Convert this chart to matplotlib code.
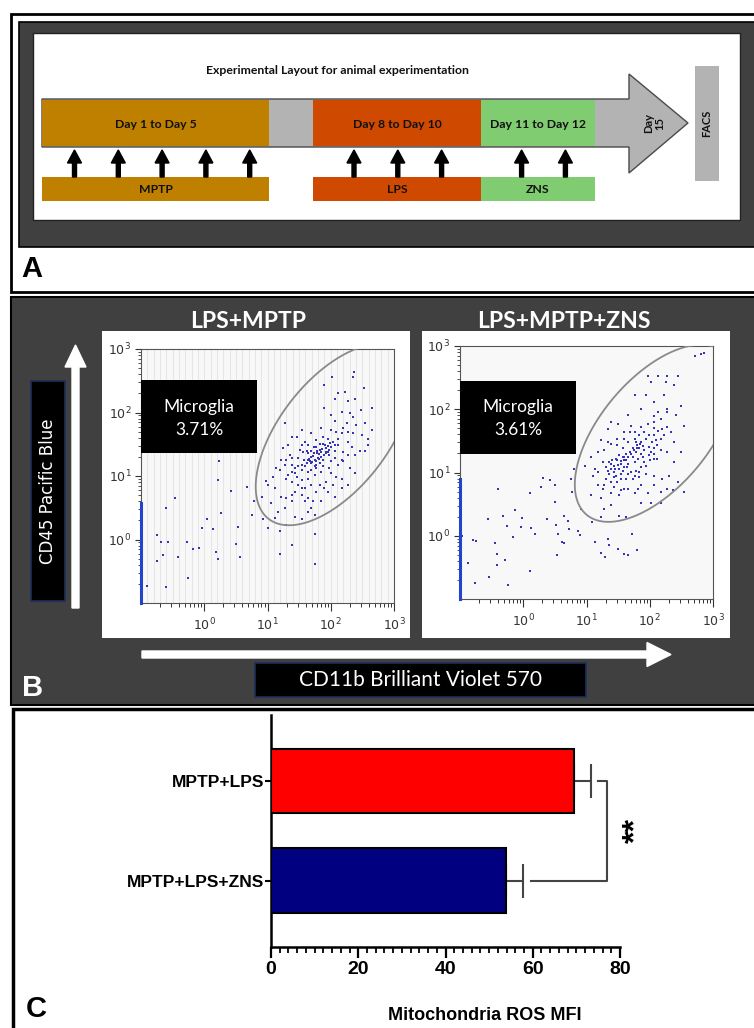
import numpy as np
import matplotlib
matplotlib.use('Agg')
from matplotlib import pyplot as plt
from matplotlib.patches import Rectangle, Polygon, FancyArrow
from matplotlib.ticker import FixedLocator, LogLocator, NullFormatter, FuncFormatter, MultipleLocator

W, H = 754, 1028

## Panel A - timeline
phases = ['Day 1 to Day 5', 'Day 8 to Day 10', 'Day 11 to Day 12']
treatments = ['MPTP', 'LPS', 'ZNS']
n_doses = [5, 3, 2]
phase_cols = ['#bf8000', '#cf4900', '#80cc70']

## Panel B - flow events, log10(CD11b), log10(CD45)
lps_mptp_events = [
    (-0.91, -0.73), (-0.61, -0.75), (-0.26, -0.61), (-0.75, -0.34), (-0.65, -0.25),
    (-0.41, -0.28), (-0.68, -0.04), (-0.58, -0.04), (-0.28, -0.04), (-0.18, -0.15),
    (-0.08, -0.13), (0.19, -0.20), (0.22, -0.31), (0.50, -0.07), (0.56, -0.28),
    (-0.75, 0.07), (-0.61, 0.50), (-0.46, 0.65), (-0.04, 0.18), (0.05, 0.32),
    (0.14, 0.16), (0.26, 0.41), (0.23, 1.24), (0.21, 0.94), (0.42, 0.76),
    (0.53, 0.20), (0.67, 0.82), (0.75, 0.39), (0.79, 0.60), (1.00, 0.18),
    (1.12, 0.34), (1.20, 0.13), (1.39, -0.08), (1.20, -0.23), (1.75, 0.08),
    (1.75, -0.39), (1.30, 0.23), (0.93, 0.33),
    (2.36, 2.63), (2.35, 2.56), (2.02, 2.56), (1.89, 2.44), (2.52, 2.38),
    (2.12, 2.30), (2.22, 2.32), (2.38, 2.22), (2.06, 2.22), (2.27, 2.18),
    (2.65, 2.07), (2.48, 2.04), (1.90, 2.07), (2.17, 2.01), (2.01, 1.96),
    (2.30, 1.99), (2.35, 1.93), (2.06, 1.87), (2.25, 1.83), (2.54, 1.83),
    (2.40, 1.80), (2.20, 1.75), (1.28, 1.83), (1.85, 1.76), (2.09, 1.70),
    (2.35, 1.67), (2.49, 1.65), (2.59, 1.58), (2.27, 1.54), (2.12, 1.49),
    (1.88, 1.62), (1.69, 1.67), (1.54, 1.72), (1.46, 1.62), (1.38, 1.62),
    (1.59, 1.54), (2.33, 1.46), (2.46, 1.39), (2.54, 1.39), (2.01, 1.46),
    (1.77, 1.46), (1.64, 1.49), (2.06, 1.39), (1.96, 1.38), (1.90, 1.33),
    (1.85, 1.30), (1.80, 1.28), (1.75, 1.25), (1.69, 1.30), (1.67, 1.23),
    (1.83, 1.20), (1.88, 1.25), (1.93, 1.44), (1.98, 1.33), (2.06, 1.28),
    (2.17, 1.25), (2.12, 1.17), (1.75, 1.15), (1.69, 1.10), (1.64, 1.07),
    (1.59, 1.15), (1.54, 1.17), (1.48, 1.15), (1.43, 1.12), (1.38, 1.07),
    (1.33, 1.02), (1.48, 1.28), (1.35, 1.33), (1.22, 1.25), (1.20, 1.09),
    (1.27, 1.17), (1.46, 0.99), (1.54, 0.94), (1.64, 0.96), (1.75, 1.02),
    (1.85, 1.07), (2.01, 1.04), (2.17, 0.96), (1.93, 0.91), (1.83, 0.86),
    (1.59, 0.81), (1.48, 0.86), (1.38, 0.91), (1.43, 0.75), (1.54, 0.70),
    (1.64, 0.65), (1.77, 0.75), (1.96, 0.75), (2.06, 0.67), (1.85, 0.60),
    (1.69, 0.49), (1.59, 0.60), (1.38, 0.60), (1.27, 0.49), (1.22, 0.67),
    (1.12, 0.81), (1.01, 0.86), (1.06, 0.57), (1.17, 0.44), (1.43, 0.36),
    (1.54, 0.33), (1.75, 0.39), (2.19, 1.23), (2.30, 1.12), (2.38, 1.04),
    (2.59, 1.49), (2.65, 1.72), (2.09, 0.99), (1.97, 1.12), (1.79, 1.36),
    (1.74, 1.37), (1.83, 1.41), (1.91, 1.49), (2.03, 1.54), (2.12, 1.59),
    (1.64, 1.36), (1.56, 1.38), (1.51, 1.41), (0.91, 0.67), (0.97, 0.92),
    (1.09, 0.99), (1.14, 1.12), (1.25, 1.44), (1.33, 1.49),
    (1.72, 1.32), (1.78, 1.40), (1.82, 1.35), (1.86, 1.42), (1.70, 1.22),
    (1.76, 1.18), (1.92, 1.38), (1.95, 1.47), (1.66, 1.27), (1.73, 1.46),
    (1.81, 1.27), (1.88, 1.50), (1.62, 1.20), (1.58, 1.25), (1.99, 1.52),
    (1.62, 1.39), (1.69, 1.39), (1.77, 1.23), (1.85, 1.38), (1.93, 1.36),
    (1.98, 1.41), (1.54, 1.09), (1.43, 1.04), (1.38, 1.17), (1.30, 0.96),
    (1.69, 1.20), (1.64, 1.25), (1.77, 1.12), (1.88, 1.15), (2.01, 1.23),
    (2.06, 1.49), (2.19, 1.38), (2.27, 1.33), (2.38, 1.33), (2.27, 1.70),
    (2.17, 1.67), (2.01, 1.72), (1.96, 1.59), (1.77, 1.57), (1.83, 1.51),
    (1.54, 1.49), (1.38, 1.28), (1.30, 1.25), (1.54, 0.81), (1.69, 0.86),
    (1.90, 0.81), (2.04, 0.86), (2.27, 0.86), (2.17, 0.81), (1.38, 0.70),
    (1.30, 0.65), (1.72, 0.60), (1.64, 0.44),
]
lps_mptp_zns_events = [
    (-0.97, 0.00), (-0.79, -0.06), (-0.75, -0.09), (-0.87, -0.43), (-0.77, -0.74),
    (-0.54, -0.66), (-0.41, -0.29), (-0.45, -0.11), (-0.41, -0.46), (-0.29, -0.39),
    (-0.24, -0.78), (0.10, -0.55), (-0.32, 0.32), (-0.56, 0.26), (-0.26, 0.15),
    (-0.16, -0.02), (-0.13, 0.40), (-0.02, 0.28), (-0.03, 0.14), (0.13, 0.12),
    (0.19, 0.02), (0.31, 0.91), (0.28, 0.77), (0.38, 0.26), (0.43, 0.88),
    (0.50, 0.80), (0.50, 0.53), (0.52, 0.17), (0.54, -0.31), (0.55, 0.02),
    (0.61, -0.10), (0.65, -0.11), (0.65, 0.32), (0.72, 0.11), (0.76, 0.90),
    (0.77, 0.69), (0.87, 0.08), (0.92, 0.43), (1.08, 0.22), (1.13, -0.10),
    (1.23, -0.27), (1.29, -0.34), (1.34, -0.05), (1.35, -0.15), (1.50, -0.21),
    (1.59, -0.29), (1.65, -0.31), (1.72, 0.02), (1.80, -0.23), (-0.40, 0.74),
    (0.10, 0.67), (0.71, 0.24), (0.89, 0.01),
    (2.71, 2.84), (2.81, 2.88), (2.86, 2.89),
    (1.97, 2.53), (2.13, 2.53), (2.28, 2.52), (2.44, 2.52), (2.02, 2.43),
    (2.25, 2.43), (2.39, 2.39), (1.76, 2.23), (1.94, 2.22), (2.22, 2.22),
    (2.50, 2.05), (2.41, 1.91), (2.28, 1.95), (2.13, 1.95), (2.06, 1.90),
    (1.65, 1.91), (1.50, 1.77), (1.39, 1.80), (1.34, 1.68), (1.70, 1.74),
    (1.86, 1.72), (1.97, 1.77), (2.07, 1.70), (2.13, 1.65), (2.20, 1.68),
    (2.28, 1.72), (2.33, 1.64), (2.07, 1.60), (1.99, 1.59), (1.94, 1.53),
    (1.86, 1.48), (1.80, 1.43), (1.73, 1.39), (1.68, 1.33), (1.62, 1.30),
    (1.57, 1.24), (1.52, 1.27), (1.47, 1.22), (1.41, 1.19), (1.36, 1.17),
    (1.31, 1.09), (1.39, 1.06), (1.44, 1.11), (1.55, 1.14), (1.60, 1.09),
    (1.65, 1.14), (1.76, 1.17), (1.81, 1.22), (1.86, 1.30), (1.91, 1.35),
    (1.99, 1.40), (2.04, 1.48), (2.10, 1.51), (1.89, 1.24), (1.70, 1.01),
    (1.78, 1.03), (1.55, 0.98), (1.47, 0.95), (1.36, 0.98), (1.31, 0.90),
    (1.39, 0.85), (1.49, 0.85), (1.62, 0.90), (1.73, 0.90), (1.83, 0.93),
    (1.94, 0.98), (2.07, 0.95), (2.20, 0.90), (2.31, 0.95), (2.36, 0.72),
    (2.18, 0.69), (1.97, 0.67), (1.76, 0.67), (1.81, 0.74), (1.65, 0.74),
    (1.55, 0.72), (1.44, 0.77), (1.26, 0.74), (1.18, 0.80), (1.07, 0.64),
    (1.23, 0.59), (1.28, 0.43), (1.39, 0.48), (1.52, 0.32), (1.62, 0.30),
    (1.23, 0.30), (1.07, 1.24), (1.13, 1.06), (1.65, 1.48), (1.76, 1.53),
    (1.60, 1.53), (1.49, 1.43), (1.39, 1.45), (1.28, 1.35), (1.23, 1.51),
    (1.18, 1.32), (1.10, 0.95), (0.97, 1.11), (0.81, 1.06), (2.54, 0.69),
    (2.18, 0.51), (2.02, 0.51), (1.86, 0.51), (2.12, 1.22), (2.18, 1.35),
    (2.28, 1.32), (2.39, 1.48), (2.54, 1.74), (2.18, 1.85), (2.07, 1.30),
    (2.01, 1.19), (1.78, 1.32), (1.57, 1.38), (1.68, 1.64), (1.83, 1.59),
    (2.02, 1.32), (2.07, 1.38), (1.94, 1.11), (1.86, 1.09), (1.73, 1.24),
    (1.62, 1.19), (1.52, 1.06), (1.44, 1.01),
    (1.60, 1.20), (1.66, 1.25), (1.70, 1.30), (1.75, 1.35), (1.55, 1.18),
    (1.80, 1.38), (1.84, 1.45), (1.50, 1.12), (1.45, 1.05), (1.58, 1.02),
    (1.90, 1.42), (1.64, 1.08),
    (1.78, 1.48), (1.83, 1.38), (1.70, 1.30), (1.60, 1.24), (1.49, 1.19),
    (1.39, 1.14), (1.34, 1.03), (1.44, 0.93), (1.55, 0.90), (1.65, 0.98),
    (1.76, 0.95), (1.83, 1.01), (1.91, 1.17), (1.99, 1.27), (2.07, 1.22),
    (2.12, 1.43), (2.18, 1.53), (2.23, 1.59), (2.07, 1.80), (1.91, 1.64),
    (1.76, 1.64), (1.60, 1.64), (1.49, 1.53), (1.34, 1.48), (1.26, 1.17),
    (1.18, 1.01), (1.28, 0.80), (1.39, 0.67), (1.52, 0.64), (1.60, 0.74),
    (1.86, 0.80), (2.07, 0.80), (2.28, 0.74), (2.44, 0.85), (2.39, 1.17),
    (2.49, 1.32), (2.28, 2.01), (2.07, 2.11), (1.86, 2.01),
]
flow_titles = ['LPS+MPTP', 'LPS+MPTP+ZNS']
microglia_pct = ['3.71%', '3.61%']

## Panel C - bars
groups = ['MPTP+LPS', 'MPTP+LPS+ZNS']
ros_mfi = [69.5, 53.9]
ros_sem = [3.8, 3.8]
bar_cols = ['#ff0000', '#000080']

LATO = 'Lato'
ARIAL = 'Liberation Sans'

fig = plt.figure(figsize=(W / 100, H / 100), dpi=100)
bg = fig.add_axes([0, 0, 1, 1])
bg.set_xlim(0, W)
bg.set_ylim(H, 0)
bg.axis('off')


def px_axes(l, t, r, b):
    return fig.add_axes([l / W, 1 - b / H, (r - l) / W, (b - t) / H])


# ---------------- A ----------------
bg.add_patch(Rectangle((11, 13.5), 760, 278, fc='white', ec='black', lw=2))
bg.add_patch(Rectangle((18.5, 21.5), 760, 225.5, fc='#404040', ec='black', lw=1.2))
bg.add_patch(Rectangle((33, 33), 707, 187, fc='white', ec='#222222', lw=1))

bg.text(337, 71, 'Experimental Layout for animal experimentation', ha='center', va='center',
        fontsize=8.8, fontweight='bold', family=LATO, color='#111111')
bg.add_patch(Polygon([(42, 99), (629, 99), (629, 74), (688, 123), (629, 173), (629, 147), (42, 147)],
                     closed=True, fc='#b3b3b3', ec='#4a4a4a', lw=1))
seg_edges = [(42, 269), (313, 481), (481, 595)]
dose_x0 = [74.5, 354, 521.6]
for i, (x0, x1) in enumerate(seg_edges):
    bg.add_patch(Rectangle((x0, 99.6), x1 - x0, 46.8, fc=phase_cols[i], ec='none'))
    bg.text((x0 + x1) / 2, 124, phases[i], ha='center', va='center', fontsize=8.8,
            fontweight='bold', family=LATO, color='#111111')
    bg.add_patch(Rectangle((x0, 177), x1 - x0, 24, fc=phase_cols[i], ec='none'))
    bg.text((x0 + x1) / 2, 189.5, treatments[i], ha='center', va='center', fontsize=8.8,
            fontweight='bold', family=LATO, color='#111111')
    for k in range(n_doses[i]):
        bg.add_patch(FancyArrow(dose_x0[i] + 43.8 * k, 177, 0, -27, width=4, head_width=14,
                                head_length=13, length_includes_head=True, color='black'))
bg.text(654, 123, 'Day\n15', rotation=90, ha='center', va='center', fontsize=8,
        fontweight='bold', family=LATO, color='#111111', linespacing=1.0, multialignment='center')
bg.add_patch(Rectangle((695, 66), 24, 115, fc='#b3b3b3', ec='none'))
bg.text(707, 123, 'FACS', rotation=90, ha='center', va='center', fontsize=8,
        fontweight='bold', family=LATO, color='#111111')
bg.text(32, 269, 'A', ha='center', va='center', fontsize=21, fontweight='bold', family=ARIAL)

# ---------------- B ----------------
bg.add_patch(Rectangle((10.5, 296.5), 760, 408, fc='#404040', ec='black', lw=1.5))
bg.add_patch(Rectangle((12.5, 708.5), 760, 330, fc='white', ec='black', lw=2.5))
for cx, t in zip([248, 564], flow_titles):
    bg.text(cx, 321, t, ha='center', va='center', fontsize=16.5, fontweight='bold',
            family=LATO, color='white')
for x0 in [102, 422]:
    bg.add_patch(Rectangle((x0, 331), 308, 307, fc='white', ec='none'))
bg.add_patch(FancyArrow(75.5, 608, 0, -263, width=7, head_width=21, head_length=22,
                        length_includes_head=True, color='white'))
bg.add_patch(Rectangle((31, 381), 34, 220, fc='black', ec='#1c2f5a', lw=1.2))
bg.text(48, 491, 'CD45 Pacific Blue', rotation=90, ha='center', va='center', fontsize=12,
        color='white', family='DejaVu Sans')
bg.add_patch(FancyArrow(142, 654.5, 529, 0, width=7, head_width=24, head_length=24,
                        length_includes_head=True, color='white'))
bg.add_patch(Rectangle((255, 663), 331, 34, fc='black', ec='#1c2f5a', lw=1.2))
bg.text(420.5, 680, 'CD11b Brilliant Violet 570', ha='center', va='center', fontsize=15,
        color='white', family=LATO)
bg.text(33, 688, 'B', ha='center', va='center', fontsize=21, fontweight='bold',
        family=ARIAL, color='white')

fmt10 = FuncFormatter(lambda v, p: r'$\mathregular{10^{%d}}$' % round(np.log10(v)))
flow_boxes = [(141, 349, 394, 603), (460, 346, 713, 599)]
gates = [(2.05, 1.65, 52), (2.08, 1.62, 50)]
box_top = [0.8775, 0.86]
box_bot = [0.59, 0.575]
txt_y = [(0.772, 0.681), (0.759, 0.668)]
for j, ev in enumerate([lps_mptp_events, lps_mptp_zns_events]):
    ax = px_axes(*flow_boxes[j])
    cd11b, cd45 = np.array(ev).T
    ax.set_xscale('log')
    ax.set_yscale('log')
    ax.set_xlim(0.1, 1000)
    ax.set_ylim(0.1, 1000)
    ax.set_facecolor('#f8f8f8')
    if j == 0:
        for g in 10 ** np.linspace(-1, 3, 41)[1:-1]:
            ax.axvline(g, color='#e2e2e2', lw=0.6, zorder=0)
    ax.scatter(10 ** cd11b, 10 ** cd45, s=2.5, marker='s', c='#3535b5', linewidths=0, zorder=3)
    # gate
    cx, cy, ang = gates[j]
    t = np.linspace(0, 2 * np.pi, 300)
    th = np.deg2rad(ang)
    gx = cx + 1.68 * np.cos(t) * np.cos(th) - 0.86 * np.sin(t) * np.sin(th)
    gy = cy + 1.68 * np.cos(t) * np.sin(th) + 0.86 * np.sin(t) * np.cos(th)
    ax.plot(10 ** gx, 10 ** gy, color='#8a8a8a', lw=1.3, zorder=4)
    ax.plot([0.1, 0.1], [0.1, 10 ** (0.57 if j == 0 else 0.9)], color='#2244cc', lw=2.2,
            clip_on=False, zorder=5)
    ax.add_patch(Rectangle((0, box_bot[j]), 0.46, box_top[j] - box_bot[j], transform=ax.transAxes,
                           fc='black', ec='none', zorder=6))
    ax.text(0.23, txt_y[j][0], 'Microglia', transform=ax.transAxes, ha='center', va='center',
            fontsize=12.5, color='white', family=LATO, zorder=7)
    ax.text(0.23, txt_y[j][1], microglia_pct[j], transform=ax.transAxes, ha='center', va='center',
            fontsize=12.5, color='white', family=LATO, zorder=7)
    for a in (ax.xaxis, ax.yaxis):
        a.set_major_locator(FixedLocator([1, 10, 100, 1000]))
        a.set_minor_locator(LogLocator(base=10, subs=np.arange(2, 10), numticks=20))
        a.set_minor_formatter(NullFormatter())
        a.set_major_formatter(fmt10)
    ax.tick_params(axis='x', which='major', direction='out', length=6, width=0.8, color='#333333',
                   labelsize=9, labelcolor='#333333', pad=4)
    ax.tick_params(axis='x', which='minor', direction='out', length=3, width=0.7, color='#333333')
    ax.tick_params(axis='y', which='major', direction='out', length=4, width=0.8, color='#333333',
                   labelsize=9, labelcolor='#333333', pad=3)
    ax.tick_params(axis='y', which='minor', direction='out', length=2.5, width=0.6, color='#333333')
    for s in ax.spines.values():
        s.set_color('#555555')
        s.set_linewidth(0.8)

# ---------------- C ----------------
axc = px_axes(271, 715, 620, 947)
ypos = [1, 0]
axc.barh(ypos, ros_mfi, height=0.65, color=bar_cols, edgecolor='black', linewidth=1.5, zorder=3)
axc.errorbar(ros_mfi, ypos, xerr=[[0, 0], ros_sem], fmt='none', ecolor='#444444',
             elinewidth=1.5, capsize=12.5, capthick=1.5, zorder=2)
axc.plot([75, 77, 77, 59.6], [1, 1, 0, 0], color='#444444', lw=1.5, clip_on=False)
axc.text(83.6, 0.5, '**', rotation=90, ha='center', va='center', fontsize=23,
         fontweight='bold', family=ARIAL, clip_on=False)
axc.set_xlim(0, 80)
axc.set_ylim(-0.668, 1.663)
axc.set_xticks(range(0, 81, 20))
axc.xaxis.set_minor_locator(MultipleLocator(2))
axc.set_yticks(ypos)
axc.set_yticklabels(groups)
for s in ['top', 'right']:
    axc.spines[s].set_visible(False)
for s in ['left', 'bottom']:
    axc.spines[s].set_linewidth(1.8)
axc.tick_params(axis='x', which='major', length=8, width=1.6, pad=2)
axc.tick_params(axis='x', which='minor', length=4, width=1.3)
axc.tick_params(axis='y', length=4, width=1.5, pad=1)
for lab in axc.get_xticklabels():
    lab.set_fontsize(14)
    lab.set_fontweight('bold')
    lab.set_family(ARIAL)
for lab in axc.get_yticklabels():
    lab.set_fontsize(12.5)
    lab.set_fontweight('bold')
    lab.set_family(ARIAL)
bg.text(485, 1016, 'Mitochondria ROS MFI', ha='center', va='center', fontsize=13,
        fontweight='bold', family=ARIAL)
bg.text(36, 1009, 'C', ha='center', va='center', fontsize=21, fontweight='bold', family=ARIAL)

fig.savefig('out.png', dpi=100)
